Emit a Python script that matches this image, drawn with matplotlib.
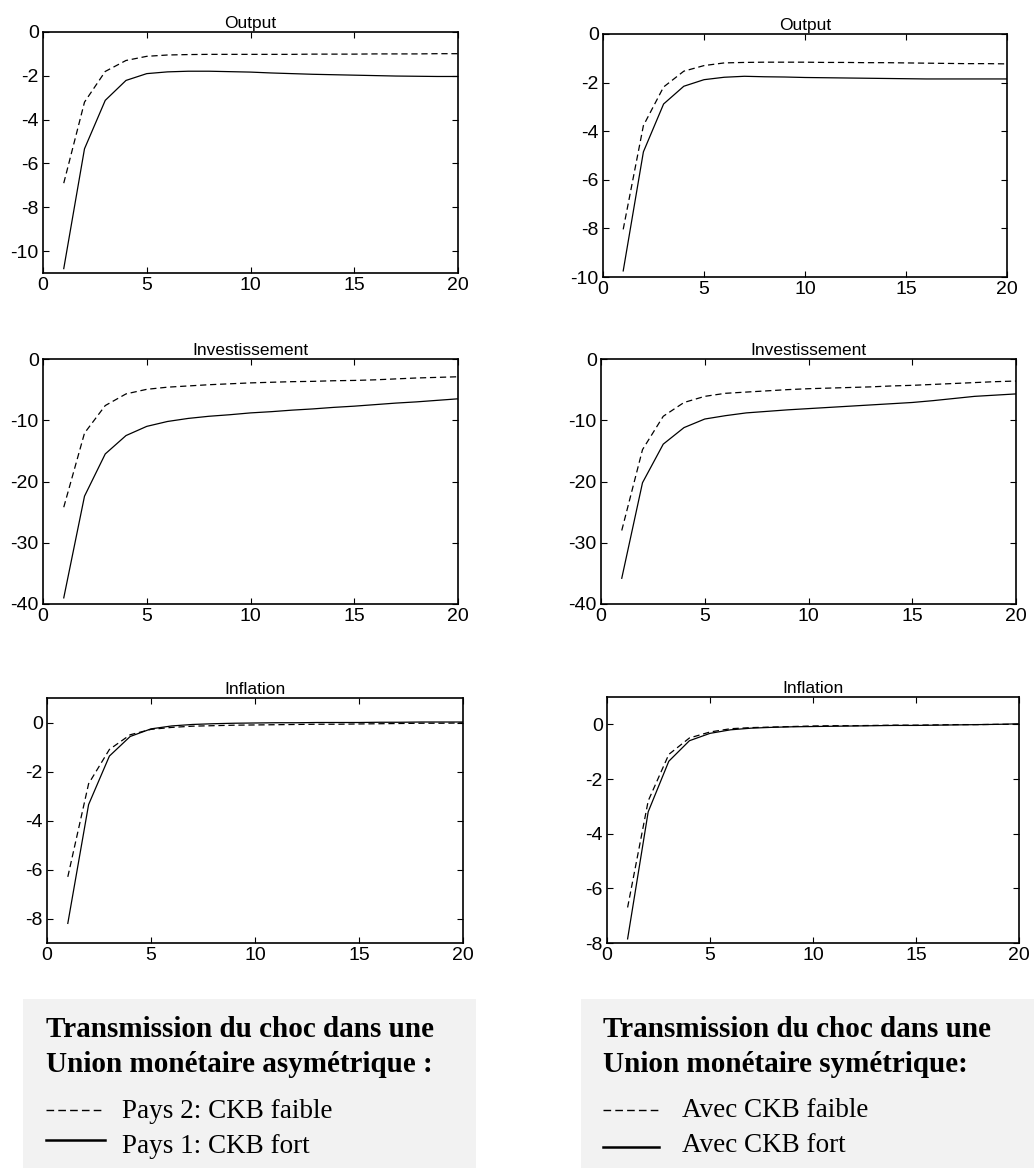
import numpy as np
import matplotlib
matplotlib.use("Agg")
import matplotlib.pyplot as plt
from matplotlib.patches import Rectangle

W, H = 1034, 1169

periods = np.arange(1, 21)

# --- Union asymetrique (gauche) ---
out_asym_fort = [-10.8, -5.33, -3.12, -2.21, -1.9, -1.82, -1.79, -1.79, -1.81, -1.83,
                 -1.87, -1.9, -1.93, -1.95, -1.97, -1.99, -2.01, -2.02, -2.03, -2.03]
out_asym_faible = [-6.9, -3.2, -1.8, -1.3, -1.11, -1.05, -1.03, -1.02, -1.02, -1.02,
                   -1.02, -1.02, -1.01, -1.01, -1.01, -1.0, -1.0, -1.0, -0.99, -0.99]
inv_asym_fort = [-39.0, -22.4, -15.5, -12.5, -11.0, -10.2, -9.7, -9.35, -9.1, -8.8,
                 -8.6, -8.35, -8.15, -7.9, -7.7, -7.45, -7.2, -7.0, -6.75, -6.5]
inv_asym_faible = [-24.2, -12.1, -7.6, -5.7, -4.95, -4.6, -4.4, -4.2, -4.05, -3.9,
                   -3.8, -3.7, -3.65, -3.55, -3.5, -3.4, -3.25, -3.1, -3.0, -2.9]
inf_asym_fort = [-8.2, -3.35, -1.37, -0.57, -0.26, -0.14, -0.08, -0.05, -0.03, -0.02,
                 -0.01, -0.01, 0.0, 0.0, 0.0, 0.01, 0.01, 0.02, 0.02, 0.02]
inf_asym_faible = [-6.3, -2.5, -1.1, -0.5, -0.28, -0.2, -0.15, -0.13, -0.11, -0.1,
                   -0.09, -0.08, -0.07, -0.07, -0.06, -0.05, -0.04, -0.03, -0.03, -0.02]

# --- Union symetrique (droite) ---
out_sym_fort = [-9.75, -4.85, -2.88, -2.15, -1.88, -1.78, -1.74, -1.76, -1.77, -1.79,
                -1.8, -1.81, -1.82, -1.83, -1.84, -1.85, -1.85, -1.85, -1.85, -1.85]
out_sym_faible = [-8.04, -3.77, -2.18, -1.53, -1.3, -1.19, -1.17, -1.16, -1.16, -1.16,
                  -1.17, -1.17, -1.18, -1.18, -1.19, -1.2, -1.21, -1.22, -1.22, -1.23]
inv_sym_fort = [-35.8, -20.2, -13.9, -11.2, -9.8, -9.25, -8.8, -8.55, -8.3, -8.1,
                -7.9, -7.7, -7.5, -7.3, -7.1, -6.8, -6.45, -6.1, -5.9, -5.7]
inv_sym_faible = [-28.0, -14.8, -9.35, -7.1, -6.1, -5.6, -5.4, -5.2, -5.0, -4.85,
                  -4.75, -4.65, -4.55, -4.4, -4.3, -4.15, -4.0, -3.85, -3.7, -3.6]
inf_sym_fort = [-7.85, -3.2, -1.35, -0.6, -0.33, -0.2, -0.14, -0.11, -0.09, -0.08,
                -0.07, -0.06, -0.05, -0.04, -0.04, -0.03, -0.02, -0.01, 0.0, 0.02]
inf_sym_faible = [-6.7, -2.8, -1.1, -0.5, -0.28, -0.16, -0.12, -0.1, -0.08, -0.06,
                  -0.05, -0.05, -0.04, -0.03, -0.03, -0.02, -0.01, -0.01, 0.0, 0.0]

titles = ["Output", "Investissement", "Inflation"]

# pixel rectangles (left, top, right, bottom) of each panel
boxes = {
    (0, 0): (43, 32, 458, 273), (0, 1): (603, 34, 1007, 277),
    (1, 0): (43, 359, 458, 604), (1, 1): (601, 359, 1016, 604),
    (2, 0): (47, 698, 463, 943), (2, 1): (607, 697, 1019, 943),
}
series = {
    (0, 0): (out_asym_faible, out_asym_fort), (0, 1): (out_sym_faible, out_sym_fort),
    (1, 0): (inv_asym_faible, inv_asym_fort), (1, 1): (inv_sym_faible, inv_sym_fort),
    (2, 0): (inf_asym_faible, inf_asym_fort), (2, 1): (inf_sym_faible, inf_sym_fort),
}
ylims = {
    (0, 0): (-11, 0), (0, 1): (-10, 0),
    (1, 0): (-40, 0), (1, 1): (-40, 0),
    (2, 0): (-9, 1), (2, 1): (-8, 1),
}
yticks = {
    (0, 0): [-10, -8, -6, -4, -2, 0], (0, 1): [-10, -8, -6, -4, -2, 0],
    (1, 0): [-40, -30, -20, -10, 0], (1, 1): [-40, -30, -20, -10, 0],
    (2, 0): [-8, -6, -4, -2, 0], (2, 1): [-8, -6, -4, -2, 0],
}

plt.rcParams["font.family"] = ["Liberation Sans", "DejaVu Sans"]
plt.rcParams["axes.unicode_minus"] = False

fig = plt.figure(figsize=(W / 100, H / 100), dpi=100)


def rect(l, t, r, b):
    return [l / W, 1 - b / H, (r - l) / W, (b - t) / H]


for key, (l, t, r, b) in boxes.items():
    ax = fig.add_axes(rect(l, t, r, b))
    faible, fort = series[key]
    ax.plot(periods, faible, color="black", linestyle=(0, (5, 3)), linewidth=0.9)
    ax.plot(periods, fort, color="black", linestyle="-", linewidth=0.9)
    ax.set_xlim(0, 20)
    ax.set_ylim(*ylims[key])
    ax.set_xticks([0, 5, 10, 15, 20])
    ax.set_yticks(yticks[key])
    ax.tick_params(direction="in", top=True, right=True, length=4, width=0.8,
                   labelsize=14, pad=3)
    for s in ax.spines.values():
        s.set_linewidth(1.2)
    ax.set_title(titles[key[0]], fontsize=12.5, pad=3)

# legend boxes, drawn on an overlay axes in pixel coordinates
ov = fig.add_axes([0, 0, 1, 1])
ov.set_xlim(0, W)
ov.set_ylim(H, 0)
ov.axis("off")

legend_boxes = [
    dict(x0=23, x1=476, title=["Transmission du choc dans une",
                               "Union monétaire asymétrique :"],
         items=["Pays 2: CKB faible", "Pays 1: CKB fort"],
         line_x=(46, 105), text_x=122, item_y=(1118, 1153), line_y=(1110, 1140)),
    dict(x0=581, x1=1034, title=["Transmission du choc dans une",
                                 "Union monétaire symétrique:"],
         items=["Avec CKB faible", "Avec CKB fort"],
         line_x=(603, 659), text_x=682, item_y=(1117, 1152), line_y=(1110, 1147)),
]

serif = ["Liberation Serif", "DejaVu Serif"]
for lb in legend_boxes:
    ov.add_patch(Rectangle((lb["x0"], 999), lb["x1"] - lb["x0"], 169,
                           facecolor="#f2f2f2", edgecolor="none"))
    tx = lb["line_x"][0]
    ov.text(tx, 1037, lb["title"][0], family=serif, fontweight="bold",
            fontsize=21, va="baseline", ha="left")
    ov.text(tx, 1072, lb["title"][1], family=serif, fontweight="bold",
            fontsize=21, va="baseline", ha="left")
    ov.plot(lb["line_x"], [lb["line_y"][0]] * 2, color="black",
            linestyle=(0, (5.5, 3)), linewidth=1.0)
    ov.plot(lb["line_x"], [lb["line_y"][1]] * 2, color="black",
            linestyle="-", linewidth=1.8)
    ov.text(lb["text_x"], lb["item_y"][0], lb["items"][0], family=serif,
            fontsize=19.5, va="baseline", ha="left")
    ov.text(lb["text_x"], lb["item_y"][1], lb["items"][1], family=serif,
            fontsize=19.5, va="baseline", ha="left")

fig.savefig("out.png", dpi=100)
